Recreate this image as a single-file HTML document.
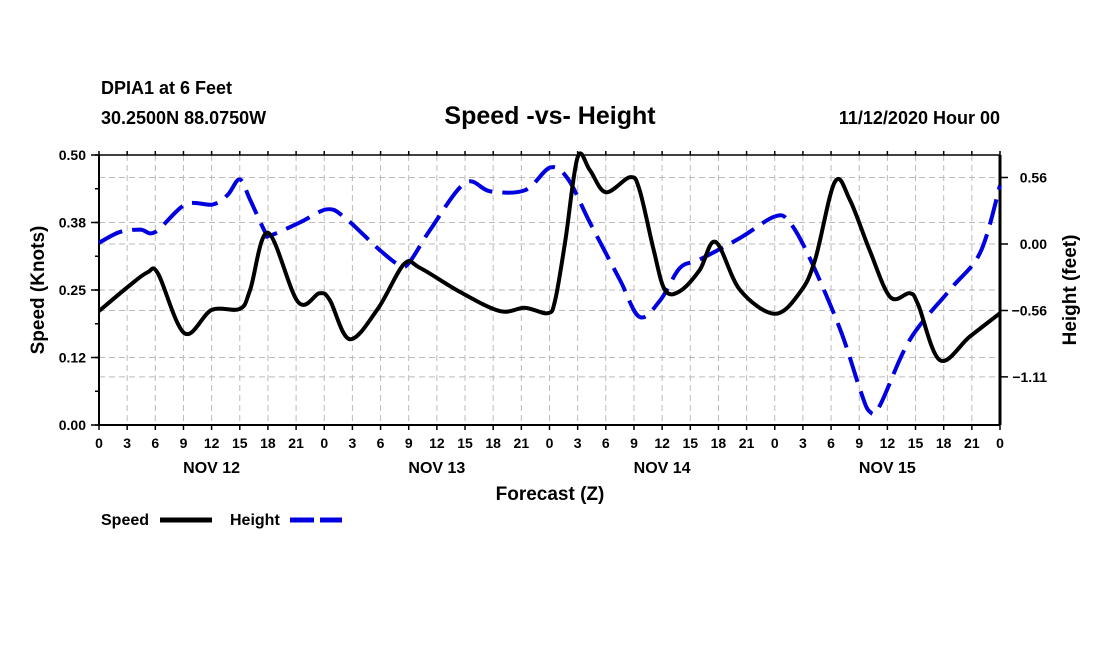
<!DOCTYPE html>
<html><head><meta charset="utf-8"><style>
body{margin:0;background:#fff;}
svg text{font-family:"Liberation Sans",Arial,sans-serif;font-weight:bold;fill:#000;}
</style></head><body>
<svg id="c" width="1100" height="650" xmlns="http://www.w3.org/2000/svg">
<text x="101" y="94" font-size="18">DPIA1 at 6 Feet</text>
<text x="101" y="124" font-size="18">30.2500N 88.0750W</text>
<text x="550" y="124" font-size="25" text-anchor="middle">Speed -vs- Height</text>
<text x="1000" y="124" font-size="18" text-anchor="end">11/12/2020 Hour 00</text>
<g id="grid"></g><g id="axes"></g><g id="series"></g>
<text x="550" y="500" font-size="19" text-anchor="middle">Forecast (Z)</text>
<text transform="translate(44,290) rotate(-90)" font-size="19" text-anchor="middle">Speed (Knots)</text>
<text transform="translate(1076,290) rotate(-90)" font-size="19" text-anchor="middle">Height (feet)</text>
<g>
<text x="101" y="525" font-size="16">Speed</text>
<line x1="160" y1="520" x2="212" y2="520" stroke="#000" stroke-width="5"/>
<text x="230" y="525" font-size="16">Height</text>
<line x1="290" y1="520" x2="342" y2="520" stroke="#0000e0" stroke-width="5" stroke-dasharray="24,6"/>
</g>
</svg>
<script>
const speedHours=[0,3.3,5.2,6.3,9.1,12,15,16.1,18,21.2,23.5,24.6,26.7,29.7,32.5,34.2,38.5,42.7,45.4,47.8,48.6,49.7,51,52.3,54,56.6,57.6,59.1,60.3,61.9,64,65.7,68.3,72,74.7,76.3,78.4,80,82.1,84.3,86.4,87.3,89.6,92.8,96];
const speedValues=[0.211,0.259,0.283,0.280,0.170,0.213,0.215,0.250,0.356,0.228,0.244,0.231,0.159,0.215,0.298,0.291,0.246,0.211,0.217,0.207,0.231,0.343,0.496,0.472,0.431,0.459,0.435,0.324,0.250,0.248,0.287,0.339,0.250,0.206,0.246,0.306,0.450,0.417,0.324,0.237,0.244,0.222,0.120,0.164,0.207];
const heightHours=[0,2.2,4.4,6,9.2,12.1,13.7,15,16.1,17.7,18.2,21.4,24.3,26.2,29.9,32.1,33.1,35.3,39,41.7,45.4,48.1,50,52.3,55.5,57.6,59.8,61.9,64,68.3,72,73.6,75.8,79,81.1,82.1,83.2,86.4,90.7,93.9,96];
const heightValues=[0.01,0.10,0.12,0.10,0.33,0.33,0.41,0.54,0.37,0.10,0.07,0.18,0.29,0.22,-0.05,-0.18,-0.15,0.12,0.51,0.44,0.45,0.64,0.54,0.18,-0.30,-0.61,-0.47,-0.20,-0.13,0.05,0.23,0.18,-0.13,-0.72,-1.22,-1.40,-1.35,-0.80,-0.38,-0.07,0.49];
const xTickLabels=["0","3","6","9","12","15","18","21"];
const dayLabels=["NOV 12","NOV 13","NOV 14","NOV 15"];
const leftTicks=[0,0.125,0.25,0.375,0.5];
const leftTickLabels=["0.00","0.12","0.25","0.38","0.50"];
const rightTicks=[0.556,0,-0.556,-1.111];
const rightTickLabels=["0.56","0.00","\u22120.56","\u22121.11"];

const L=99,R=1000,T=155,B=425;
const X=h=>L+(R-L)*h/96;
const YS=v=>B-(B-T)*v/0.5;
const YH=v=>244-119.6*v;
const NS="http://www.w3.org/2000/svg";
function mk(tag,attrs,parent){const e=document.createElementNS(NS,tag);for(const k in attrs)e.setAttribute(k,attrs[k]);parent.appendChild(e);return e;}
const grid=document.getElementById('grid'),axes=document.getElementById('axes'),series=document.getElementById('series');
for(let h=3;h<96;h+=3){const l=mk('line',{x1:X(h),x2:X(h),y1:T,y2:B,stroke:'#bbb','stroke-width':1,'stroke-dasharray':'6,4'},grid);

}
[...leftTicks.slice(1,4).map(YS),...rightTicks.map(YH)].forEach(y=>{const l=mk('line',{x1:L,x2:R,y1:y,y2:y,stroke:'#bbb','stroke-width':1,'stroke-dasharray':'6,4'},grid);

});
mk('line',{x1:L,x2:R,y1:T,y2:T,stroke:'#000','stroke-width':1.5},axes);
mk('line',{x1:L,x2:R,y1:B,y2:B,stroke:'#000','stroke-width':2},axes);
mk('line',{x1:L,x2:L,y1:T,y2:B,stroke:'#000','stroke-width':2},axes);
mk('line',{x1:R,x2:R,y1:T,y2:B,stroke:'#000','stroke-width':3},axes);
for(let i=0;i<=32;i++){const h=i*3,x=X(h);
mk('line',{x1:x,x2:x,y1:B,y2:B+5,stroke:'#000','stroke-width':1.5},axes);
mk('line',{x1:x,x2:x,y1:T,y2:T-4,stroke:'#000','stroke-width':1.5},axes);
const t=mk('text',{x:x,y:B+23,'font-size':14,'text-anchor':'middle'},axes);t.textContent=xTickLabels[i%8];

}
dayLabels.forEach((d,i)=>{const t=mk('text',{x:X(i*24+12),y:B+48,'font-size':16,'text-anchor':'middle'},axes);t.textContent=d;

});
for(let v=0;v<=0.5001;v+=0.0625){mk('line',{x1:L-4,x2:L,y1:YS(v),y2:YS(v),stroke:'#000','stroke-width':1.5},axes);}
leftTicks.forEach((v,i)=>{mk('line',{x1:L-8,x2:L,y1:YS(v),y2:YS(v),stroke:'#000','stroke-width':1.5},axes);
const t=mk('text',{x:L-13,y:YS(v)+5,'font-size':14,'text-anchor':'end'},axes);t.textContent=leftTickLabels[i];

});
rightTicks.forEach((v,i)=>{mk('line',{x1:R,x2:R+8,y1:YH(v),y2:YH(v),stroke:'#000','stroke-width':1.5},axes);
const t=mk('text',{x:R+47,y:YH(v)+5,'font-size':14,'text-anchor':'end'},axes);t.textContent=rightTickLabels[i];

});
function smooth(pts){let d=`M${pts[0][0]},${pts[0][1]}`;
for(let i=0;i<pts.length-1;i++){const p0=pts[Math.max(0,i-1)],p1=pts[i],p2=pts[i+1],p3=pts[Math.min(pts.length-1,i+2)];
const c1=[p1[0]+(p2[0]-p0[0])/6,p1[1]+(p2[1]-p0[1])/6],c2=[p2[0]-(p3[0]-p1[0])/6,p2[1]-(p3[1]-p1[1])/6];
d+=` C${c1[0]},${c1[1]} ${c2[0]},${c2[1]} ${p2[0]},${p2[1]}`;}return d;}
const hp=mk('path',{d:smooth(heightHours.map((h,i)=>[X(h),YH(heightValues[i])])),fill:'none',stroke:'#0000e0','stroke-width':4,'stroke-dasharray':'26,10'},series);


const sp=mk('path',{d:smooth(speedHours.map((h,i)=>[X(h),YS(speedValues[i])])),fill:'none',stroke:'#000','stroke-width':4,'stroke-linejoin':'round'},series);


</script>
</body></html>
